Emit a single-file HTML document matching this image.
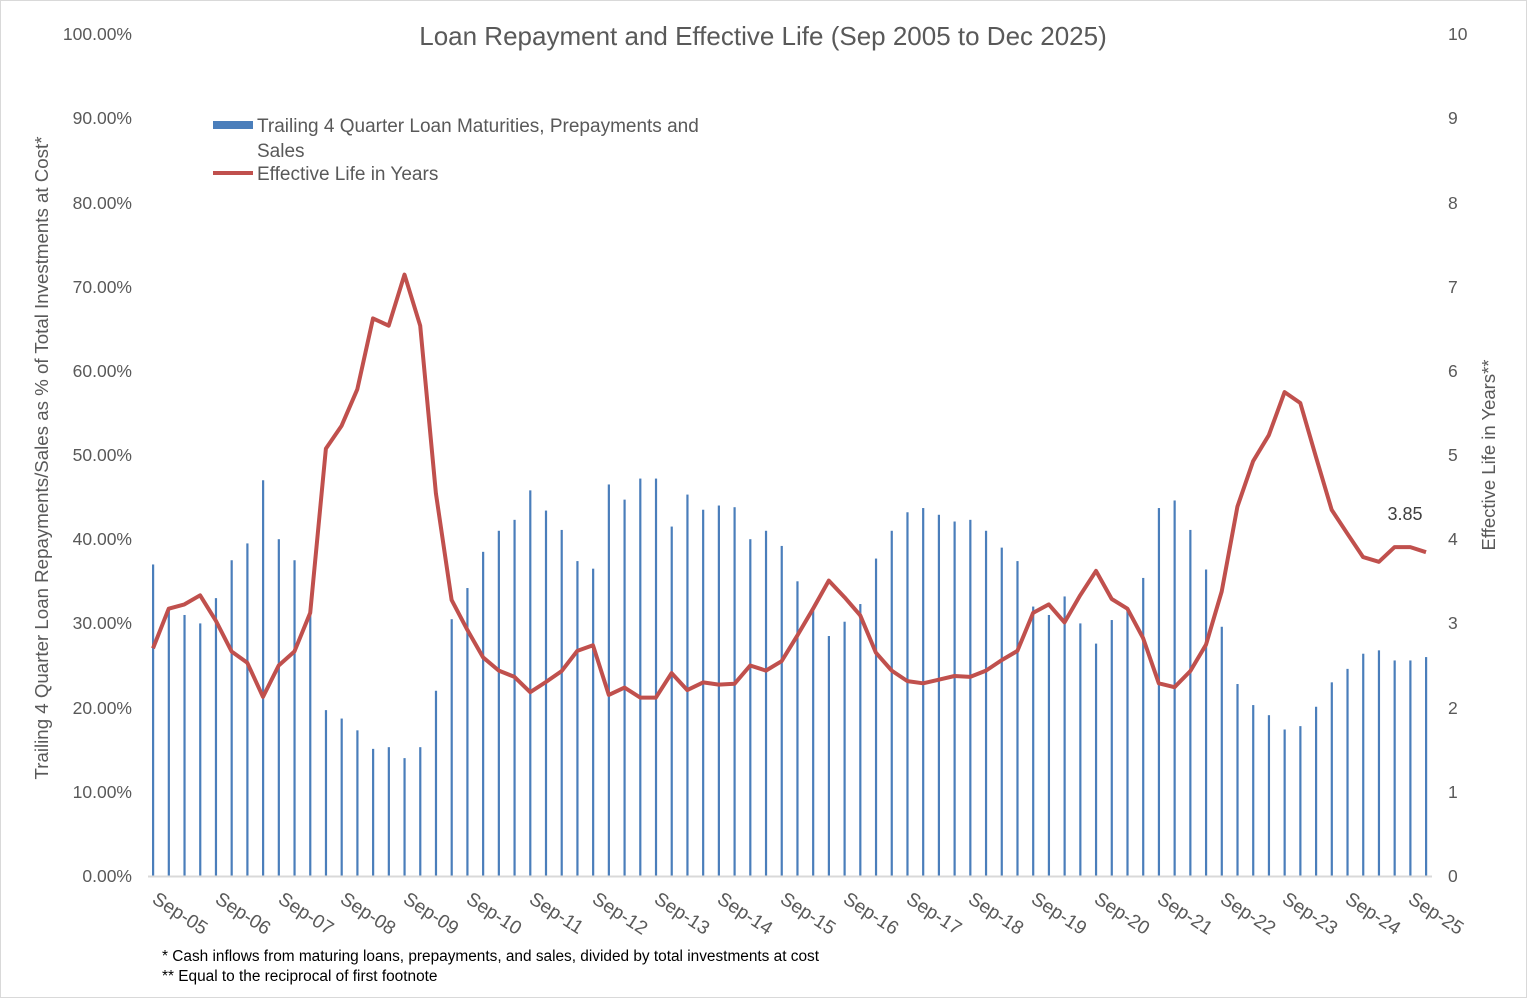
<!DOCTYPE html>
<html><head><meta charset="utf-8"><style>
body{margin:0;background:#fff;}
svg{font-family:"Liberation Sans",Arial,sans-serif;}
</style></head><body>
<svg id="s" width="1527" height="998" viewBox="0 0 1527 998" xmlns="http://www.w3.org/2000/svg">
<rect x="0.5" y="0.5" width="1526" height="997" fill="#fff" stroke="#d9d9d9"/>
<text x="763" y="45" text-anchor="middle" font-size="26" fill="#595959">Loan Repayment and Effective Life (Sep 2005 to Dec 2025)</text>
<g font-size="17.5" fill="#595959" text-anchor="end">
<text x="132" y="882">0.00%</text><text x="132" y="798">10.00%</text><text x="132" y="714">20.00%</text><text x="132" y="629">30.00%</text><text x="132" y="545">40.00%</text><text x="132" y="461">50.00%</text><text x="132" y="377">60.00%</text><text x="132" y="293">70.00%</text><text x="132" y="209">80.00%</text><text x="132" y="124">90.00%</text><text x="132" y="40">100.00%</text>
</g>
<g font-size="17.5" fill="#595959" text-anchor="start">
<text x="1448" y="882">0</text><text x="1448" y="798">1</text><text x="1448" y="714">2</text><text x="1448" y="629">3</text><text x="1448" y="545">4</text><text x="1448" y="461">5</text><text x="1448" y="377">6</text><text x="1448" y="293">7</text><text x="1448" y="209">8</text><text x="1448" y="124">9</text><text x="1448" y="40">10</text>
</g>
<text transform="translate(48,458) rotate(-90)" text-anchor="middle" font-size="18.7" fill="#595959">Trailing 4 Quarter Loan Repayments/Sales as % of Total Investments at Cost*</text>
<text transform="translate(1495,455) rotate(-90)" text-anchor="middle" font-size="18.5" fill="#595959">Effective Life in Years**</text>
<g id="bars" fill="#4a7ebb"></g>
<line x1="148" y1="876.5" x2="1432" y2="876.5" stroke="#d9d9d9" stroke-width="2"/>
<polyline id="ln" fill="none" stroke="#c0504d" stroke-width="4" stroke-linejoin="round"/>
<text x="1405" y="520" text-anchor="middle" font-size="18" fill="#404040">3.85</text>
<rect x="213" y="121" width="40" height="8" fill="#4a7ebb"/>
<text x="257" y="132" font-size="19" fill="#595959">Trailing 4 Quarter Loan Maturities, Prepayments and</text>
<text x="257" y="157" font-size="19" fill="#595959">Sales</text>
<line x1="213" y1="173" x2="253" y2="173" stroke="#c0504d" stroke-width="4"/>
<text x="257" y="180" font-size="19" fill="#595959">Effective Life in Years</text>
<g font-size="19" fill="#595959">
<text transform="translate(151,902) rotate(33)">Sep-05</text>
<text transform="translate(214,902) rotate(33)">Sep-06</text>
<text transform="translate(277,902) rotate(33)">Sep-07</text>
<text transform="translate(339,902) rotate(33)">Sep-08</text>
<text transform="translate(402,902) rotate(33)">Sep-09</text>
<text transform="translate(465,902) rotate(33)">Sep-10</text>
<text transform="translate(528,902) rotate(33)">Sep-11</text>
<text transform="translate(591,902) rotate(33)">Sep-12</text>
<text transform="translate(653,902) rotate(33)">Sep-13</text>
<text transform="translate(716,902) rotate(33)">Sep-14</text>
<text transform="translate(779,902) rotate(33)">Sep-15</text>
<text transform="translate(842,902) rotate(33)">Sep-16</text>
<text transform="translate(905,902) rotate(33)">Sep-17</text>
<text transform="translate(967,902) rotate(33)">Sep-18</text>
<text transform="translate(1030,902) rotate(33)">Sep-19</text>
<text transform="translate(1093,902) rotate(33)">Sep-20</text>
<text transform="translate(1156,902) rotate(33)">Sep-21</text>
<text transform="translate(1219,902) rotate(33)">Sep-22</text>
<text transform="translate(1281,902) rotate(33)">Sep-23</text>
<text transform="translate(1344,902) rotate(33)">Sep-24</text>
<text transform="translate(1407,902) rotate(33)">Sep-25</text>
</g>
<text x="162" y="961" font-size="15.4" fill="#000">* Cash inflows from maturing loans, prepayments, and sales, divided by total investments at cost</text>
<text x="162" y="981" font-size="15.4" fill="#000">** Equal to the reciprocal of first footnote</text>
</svg>
<script>
var v=[37,31.5,31,30,33,37.5,39.5,47,40,37.5,32,19.7,18.7,17.3,15.1,15.3,14,15.3,22,30.5,34.2,38.5,41,42.3,45.8,43.4,41.1,37.4,36.5,46.5,44.7,47.2,47.2,41.5,45.3,43.5,44,43.8,40,41,39.2,35,31.5,28.5,30.2,32.3,37.7,41,43.2,43.7,42.9,42.1,42.3,41,39,37.4,32,31,33.2,30,27.6,30.4,31.5,35.4,43.7,44.6,41.1,36.4,29.6,22.8,20.3,19.1,17.4,17.8,20.1,23,24.6,26.4,26.8,25.6,25.6,26];
var ns="http://www.w3.org/2000/svg",b=document.getElementById("bars"),pts=[];
for(var i=0;i<v.length;i++){var x=153+i*(1273/81);var h=v[i]*8.42;
var r=document.createElementNS(ns,"rect");r.setAttribute("x",x-1);r.setAttribute("y",876-h);r.setAttribute("width",2.2);r.setAttribute("height",h);b.appendChild(r);
pts.push(x.toFixed(1)+","+(876-(100/v[i])*84.2).toFixed(1));}
document.getElementById("ln").setAttribute("points",pts.join(" "));
</script>
</body></html>
